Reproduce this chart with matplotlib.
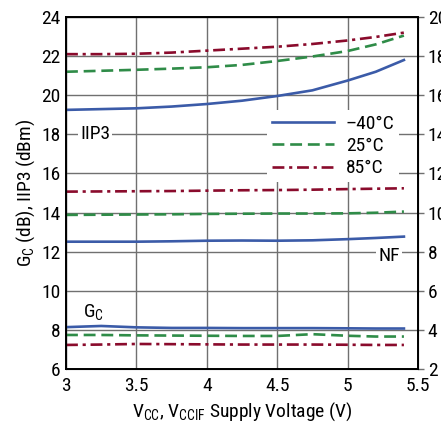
import matplotlib
matplotlib.use("Agg")
import matplotlib.pyplot as plt
import numpy as np

plt.rcParams['font.family'] = ['Roboto Condensed', 'Liberation Sans', 'DejaVu Sans']

# Supply voltage (V)
vcc = [3.0, 3.25, 3.5, 3.75, 4.0, 4.25, 4.5, 4.75, 5.0, 5.2, 5.4]

# IIP3 (dBm)
iip3_m40 = [19.25, 19.29, 19.33, 19.42, 19.55, 19.72, 19.96, 20.25, 20.75, 21.2, 21.8]
iip3_25 = [21.2, 21.25, 21.3, 21.36, 21.43, 21.55, 21.75, 21.98, 22.26, 22.6, 23.05]
iip3_85 = [22.1, 22.1, 22.12, 22.18, 22.28, 22.38, 22.48, 22.62, 22.8, 22.98, 23.2]

# NF (dB, right axis = left - 4)
nf_m40 = [8.51, 8.51, 8.51, 8.53, 8.56, 8.57, 8.56, 8.58, 8.64, 8.7, 8.77]
nf_25 = [9.88, 9.89, 9.9, 9.91, 9.93, 9.94, 9.95, 9.95, 9.96, 9.99, 10.05]
nf_85 = [11.07, 11.08, 11.09, 11.1, 11.12, 11.14, 11.15, 11.17, 11.2, 11.22, 11.24]

# Conversion gain (dB)
gc_m40 = [8.14, 8.2, 8.13, 8.1, 8.1, 8.09, 8.09, 8.09, 8.08, 8.07, 8.07]
gc_25 = [7.74, 7.74, 7.72, 7.71, 7.7, 7.69, 7.69, 7.78, 7.7, 7.66, 7.66]
gc_85 = [7.23, 7.25, 7.28, 7.27, 7.26, 7.25, 7.25, 7.25, 7.24, 7.23, 7.23]

temps = ['\u201340\u00b0C', '25\u00b0C', '85\u00b0C']
colors = ['#3B5BA8', '#2F8C48', '#8A0B2C']

fig = plt.figure(figsize=(4.41, 4.25), dpi=100)
ax = fig.add_axes([66/441, (425-369)/425, 352/441, 352/425])

lw = 1.9
styles = [dict(linestyle='-'), dict(dashes=(4.5, 2.2)), dict(dashes=(4.5, 1.8, 1.2, 1.8))]

groups = [(iip3_m40, iip3_25, iip3_85), (nf_m40, nf_25, nf_85), (gc_m40, gc_25, gc_85)]
handles = []
for g_i, grp in enumerate(groups):
    for i, y in enumerate(grp):
        y_left = y if g_i != 1 else [v + 4 for v in y]
        ln, = ax.plot(vcc, y_left, color=colors[i], lw=lw, zorder=3, **styles[i])
        if g_i == 0:
            handles.append(ln)

fs = 14
ax.set_xlim(3, 5.5)
ax.set_ylim(6, 24)
ax.set_xticks([3, 3.5, 4, 4.5, 5, 5.5])
ax.set_xticklabels(['3', '3.5', '4', '4.5', '5', '5.5'])
ax.set_yticks(np.arange(6, 25, 2))
ax.grid(True, color='#707070', lw=1.0, zorder=1)
for s in ax.spines.values():
    s.set_linewidth(1.4)
ax.tick_params(axis='both', length=0, labelsize=fs, pad=4)
ax.tick_params(axis='x', pad=6)

ax2 = ax.twinx()
ax2.set_ylim(2, 20)
ax2.set_yticks(np.arange(2, 21, 2))
ax2.tick_params(axis='y', length=4, width=1.0, labelsize=fs, pad=3, direction='out', color='#707070')

ax.set_ylabel('G$_\\mathregular{C}$ (dB), IIP3 (dBm)', fontsize=fs, labelpad=3)
ax.set_xlabel('V$_\\mathregular{CC}$, V$_\\mathregular{CCIF}$ Supply Voltage (V)', fontsize=fs, labelpad=4)

bbox = dict(facecolor='white', edgecolor='none', pad=1.5)
ax.text(3.1, 18, 'IIP3', fontsize=fs, ha='left', va='center', bbox=bbox, zorder=4)
ax.text(5.37, 11.8, 'NF', fontsize=fs, ha='right', va='center', bbox=bbox, zorder=4)
ax.text(3.12, 8.85, 'G$_\\mathregular{C}$', fontsize=fs, ha='left', va='center', zorder=4)

leg = ax.legend(handles, temps, loc='center right', bbox_to_anchor=(0.975, 0.633),
                frameon=True, fontsize=fs, handlelength=3.2, handletextpad=0.6,
                labelspacing=0.22, borderpad=0.25, markerfirst=True)
leg.get_frame().set_edgecolor('none')
leg.get_frame().set_facecolor('white')
leg.get_frame().set_alpha(1)
leg.get_frame().set_boxstyle('square', pad=0)
for t in leg.get_texts():
    t.set_ha('right')
leg._legend_box.align = 'right'
leg.set_zorder(5)

fig.savefig('out.png', dpi=100)
